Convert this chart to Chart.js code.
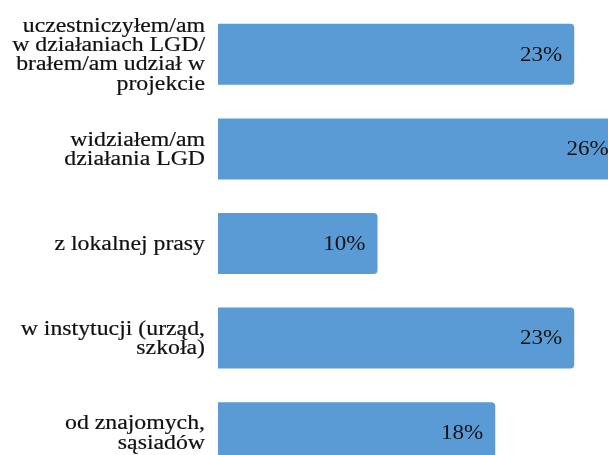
<!DOCTYPE html>
<html>
<head>
<meta charset="utf-8">
<script src="https://cdn.jsdelivr.net/npm/chart.js@4"></script>
<style>
  html, body { margin: 0; padding: 0; background: #fff; }
  #wrap { width: 608px; height: 455px; overflow: hidden; position: relative; }
  #myChart { display: block; }
</style>
</head>
<body>
<div id="wrap"><canvas id="myChart" width="630" height="480"></canvas></div>
<script>
// Data

const categories = [
  ["uczestniczyłem/am", "w działaniach LGD/", "brałem/am udział w", "projekcie"],
  ["widziałem/am", "działania LGD"],
  ["z lokalnej prasy"],
  ["w instytucji (urząd,", "szkoła)"],
  ["od znajomych,", "sąsiadów"],
];
const values = [23, 26, 10.3, 23, 17.9];
const valueLabels = ["23%", "26%", "10%", "23%", "18%"];

const barColor = "#5B9BD5";
const textColor = "#111111";
const serif = "'Liberation Serif', 'Times New Roman', serif";

// Labels drawn with a slight horizontal stretch, like the original picture

const stretchText = (ctx, text, x, y, sx, weight) => {
  ctx.save();
  ctx.translate(x, y);
  ctx.scale(sx, 1);
  ctx.fillText(text, 0, 0);
  if (weight) {
    ctx.lineWidth = weight;
    ctx.strokeText(text, 0, 0);
  }
  ctx.restore();
};

const labelPlugin = {
  id: "labelPlugin",
  afterDraw(chart) {
    const ctx = chart.ctx;
    const yScale = chart.scales.y;
    const meta = chart.getDatasetMeta(0);

    // category labels
    ctx.fillStyle = textColor;
    ctx.strokeStyle = textColor;
    ctx.textAlign = "right";
    ctx.textBaseline = "middle";
    ctx.font = `20.5px ${serif}`;
    const lineH = 19.3;
    categories.forEach((lines, i) => {
      const cy = yScale.getPixelForValue(i);
      const top = cy - ((lines.length - 1) * lineH) / 2;
      lines.forEach((line, j) => {
        stretchText(ctx, line, yScale.right - 13, top + j * lineH + 1, 1.16, 0.2);
      });
    });

    // value labels inside bars
    ctx.font = `20px ${serif}`;
    meta.data.forEach((bar, i) => {
      stretchText(ctx, valueLabels[i], bar.x - 12, bar.y + 1, 1.15, 0);
    });
  },
};

const data = {
  labels: categories,
  datasets: [
    {
      data: values,
      backgroundColor: barColor,
      borderRadius: 4,
      barPercentage: 0.645,
      categoryPercentage: 1,
    },
  ],
};

const config = {
  type: "bar",
  data,
  options: {
    indexAxis: "y",
    responsive: false,
    animation: false,
    layout: { padding: { top: 7, left: 0, right: 0, bottom: 0 } },
    plugins: {
      legend: { display: false },
      tooltip: { enabled: false },
    },
    scales: {
      x: {
        display: false,
        min: 0,
        max: 26.6,
      },
      y: {
        grid: { display: false },
        border: { display: false },
        ticks: { display: false },
        afterFit(scale) {
          scale.width = 218;
        },
      },
    },
  },
  plugins: [labelPlugin],
};

const myChart = new Chart(document.getElementById("myChart"), config);
</script>
</body>
</html>
